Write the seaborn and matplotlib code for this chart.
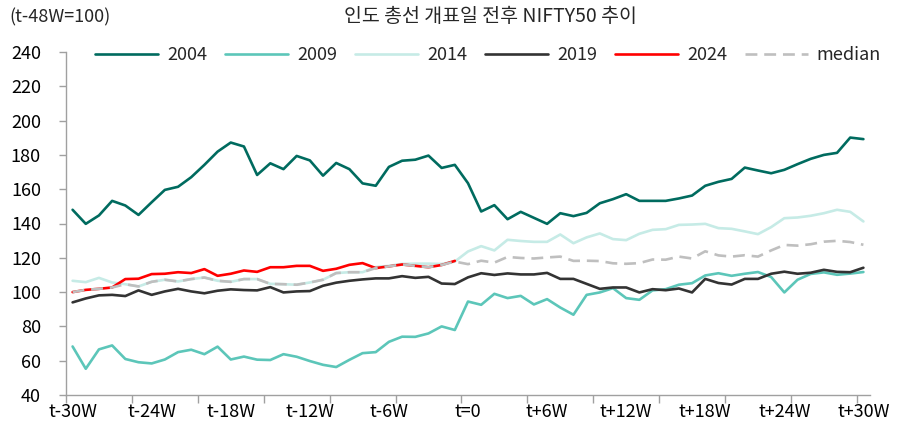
import matplotlib
matplotlib.use("Agg")
import matplotlib.pyplot as plt
import seaborn as sns

# weeks relative to the counting day (t=0)
weeks = list(range(-30, 31))
tick_weeks = list(range(-30, 31, 6))
tick_labels = ["t-30W", "t-24W", "t-18W", "t-12W", "t-6W", "t=0",
               "t+6W", "t+12W", "t+18W", "t+24W", "t+30W"]
y_ticks = list(range(40, 241, 20))

y2004 = [148.0, 139.8, 144.7, 153.2, 150.5, 145.0, 152.4, 159.6, 161.4, 167.0,
         174.2, 181.9, 187.2, 184.9, 168.3, 175.1, 171.7, 179.4, 176.8, 167.9,
         175.3, 171.7, 163.4, 162.0, 173.0, 176.6, 177.2, 179.6, 172.4, 174.2,
         163.5, 147.0, 150.7, 142.5, 146.8, 143.3, 139.8, 146.0, 144.3, 146.2,
         151.8, 154.2, 157.1, 153.2, 153.2, 153.2, 154.6, 156.3, 162.0, 164.3,
         166.0, 172.6, 170.9, 169.3, 171.3, 174.6, 177.7, 180.0, 181.2, 190.1,
         189.2]
y2009 = [68.3, 55.3, 66.6, 68.9, 61.0, 59.1, 58.4, 60.7, 65.0, 66.4,
         63.8, 68.2, 60.7, 62.4, 60.6, 60.4, 63.8, 62.3, 59.8, 57.6,
         56.3, 60.5, 64.4, 65.0, 71.0, 74.0, 73.9, 75.9, 80.0, 77.9,
         94.5, 92.6, 99.0, 96.5, 97.8, 92.8, 95.9, 91.0, 86.8, 98.4,
         99.8, 102.3, 96.5, 95.5, 101.0, 101.7, 104.3, 105.2, 109.7, 111.0,
         109.5, 110.7, 111.7, 108.8, 99.8, 107.2, 110.6, 111.5, 110.1, 110.8,
         111.7]
y2014 = [106.6, 105.8, 108.3, 105.6, 104.6, 103.3, 106.0, 107.2, 106.2, 107.6,
         108.5, 106.6, 106.0, 107.6, 107.6, 104.8, 104.6, 104.3, 105.6, 107.2,
         111.1, 111.6, 111.6, 114.6, 115.3, 116.4, 116.6, 116.6, 116.4, 117.8,
         123.7, 126.8, 124.3, 130.5, 129.8, 129.3, 129.3, 133.6, 128.5, 131.9,
         134.2, 130.9, 130.3, 134.0, 136.3, 136.7, 139.2, 139.4, 139.8, 137.3,
         136.9, 135.4, 133.8, 137.9, 143.1, 143.5, 144.5, 146.0, 148.0, 146.8,
         141.2]
y2019 = [94.0, 96.3, 98.1, 98.4, 97.7, 101.0, 98.4, 100.4, 101.9, 100.4,
         99.3, 100.8, 101.6, 101.2, 101.0, 102.9, 99.8, 100.4, 100.6, 103.7,
         105.5, 106.6, 107.4, 108.0, 108.0, 109.3, 108.3, 108.9, 105.0, 104.7,
         108.6, 111.0, 110.0, 110.9, 110.3, 110.3, 111.2, 107.7, 107.7, 104.8,
         101.9, 102.7, 102.7, 99.8, 101.7, 101.1, 102.1, 99.8, 107.7, 105.3,
         104.4, 107.7, 107.7, 110.7, 111.9, 110.7, 111.3, 113.0, 111.8, 111.6,
         114.2]
y2024 = [100.0, 101.3, 101.9, 102.7, 107.6, 107.8, 110.5, 110.7, 111.6, 111.1,
         113.4, 109.5, 110.7, 112.6, 111.8, 114.5, 114.5, 115.3, 115.3, 112.4,
         113.6, 115.9, 116.9, 114.0, 115.0, 116.1, 115.3, 114.5, 115.8, 118.2]
y_median = [100.0, 101.3, 101.9, 102.7, 104.6, 103.3, 106.0, 107.2, 106.2, 107.6,
            108.5, 106.6, 106.0, 107.6, 107.6, 104.8, 104.6, 104.3, 105.6, 107.2,
            111.1, 111.6, 111.6, 114.0, 115.0, 116.1, 115.3, 114.5, 115.8, 117.8,
            116.3, 118.3, 117.2, 120.5, 119.9, 119.6, 120.2, 120.7, 118.2, 118.3,
            118.1, 116.8, 116.5, 116.9, 119.0, 118.9, 120.7, 119.6, 123.8, 121.4,
            120.7, 121.5, 120.7, 124.3, 127.5, 127.1, 127.9, 129.4, 129.9, 129.2,
            127.6]

series = [
    ("2004", y2004, "#006B5F", "-"),
    ("2009", y2009, "#5CC6B9", "-"),
    ("2014", y2014, "#C6EBE6", "-"),
    ("2019", y2019, "#333333", "-"),
    ("2024", y2024, "#FF0000", "-"),
    ("median", y_median, "#BFBFBF", (0, (4.5, 2.6))),
]

sns.set_theme(style="white")
plt.rcParams["font.family"] = ["Noto Sans CJK KR", "DejaVu Sans"]

W, H = 904, 430
fig = plt.figure(figsize=(W / 100, H / 100), dpi=100)
ax = fig.add_axes([66 / W, 1 - 395 / H, (870 - 66) / W, (395 - 52) / H])

for name, vals, color, ls in series:
    sns.lineplot(x=weeks[:len(vals)], y=vals, ax=ax, color=color,
                 linewidth=1.9, linestyle=ls, label=name)

ax.set_xlim(-30.5, 30.5)
ax.set_ylim(40, 240)
ax.set_yticks(y_ticks)
ax.set_xticks(tick_weeks)
ax.set_xticklabels(tick_labels)
ax.set_xticks([w - 0.5 for w in range(-30, 31, 5)], minor=True)
ax.set_xlabel("")
ax.set_ylabel("")

spine_col = "#A0A0A0"
for s in ["top", "right"]:
    ax.spines[s].set_visible(False)
for s in ["left", "bottom"]:
    ax.spines[s].set_color(spine_col)
    ax.spines[s].set_linewidth(1.0)

ax.tick_params(axis="y", which="major", left=True, direction="out", length=5,
               width=1, color=spine_col, labelsize=13, pad=13, labelcolor="black")
ax.tick_params(axis="x", which="major", bottom=True, length=0, labelsize=13,
               pad=6, labelcolor="black")
ax.tick_params(axis="x", which="minor", bottom=True, direction="out", length=6,
               width=1, color=spine_col)

ax.legend(ncol=6, loc="center left", bbox_to_anchor=(95 / W, 1 - 55 / H),
          bbox_transform=fig.transFigure, frameon=False, fontsize=13,
          handlelength=3.5, handletextpad=0.5, columnspacing=0.98,
          borderpad=0, borderaxespad=0)

fig.text(490 / W, 1 - 17 / H, "인도 총선 개표일 전후 NIFTY50 추이",
         ha="center", va="center", fontsize=14)
fig.text(9 / W, 1 - 17 / H, "(t-48W=100)", ha="left", va="center", fontsize=13)

fig.savefig("out.png", dpi=100)
